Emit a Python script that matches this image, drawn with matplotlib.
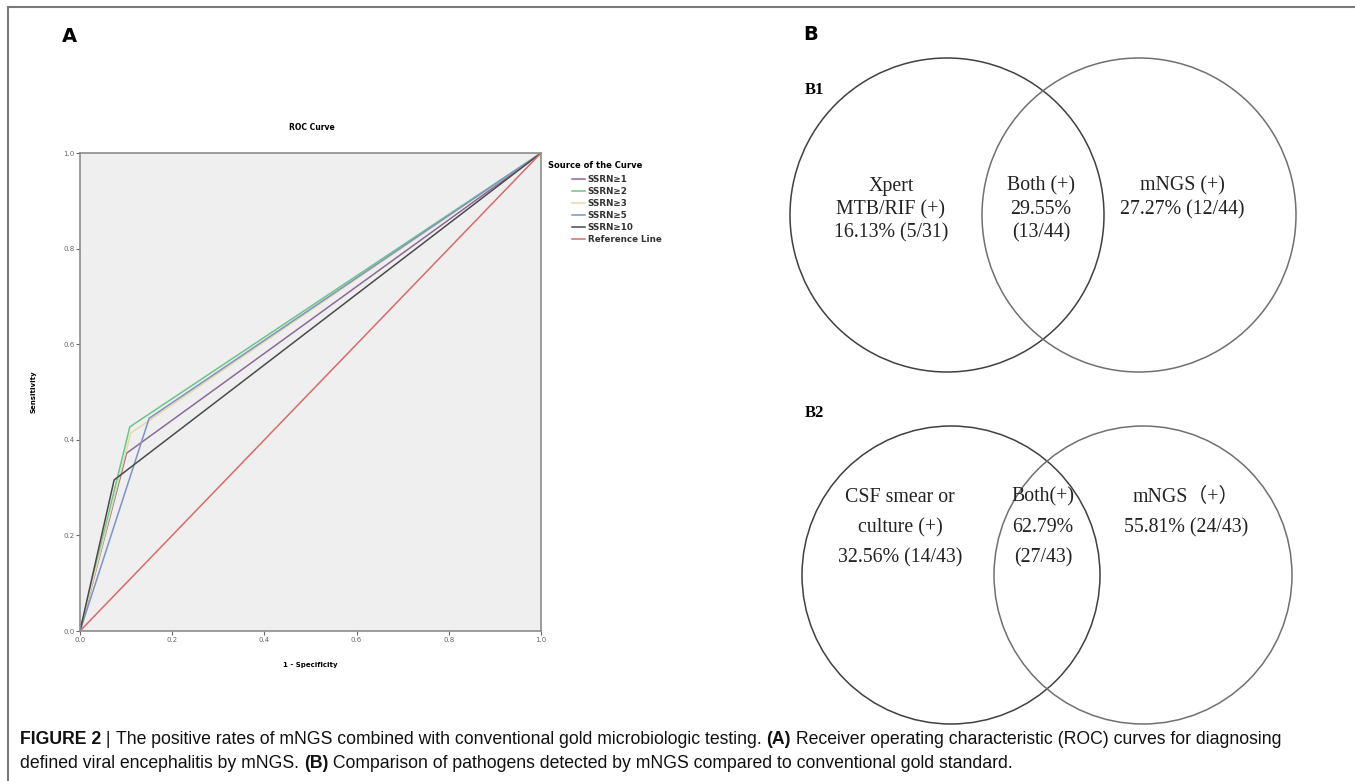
import matplotlib
matplotlib.use("Agg")
import matplotlib.pyplot as plt
from matplotlib.patches import Circle
from matplotlib.lines import Line2D

W, H = 1355, 781

# ROC curves (1 - specificity, sensitivity) at the single cut-off of each threshold
curve_names = ["SSRN\u22651", "SSRN\u22652", "SSRN\u22653", "SSRN\u22655", "SSRN\u226510"]
curve_fpr = [0.101, 0.108, 0.110, 0.150, 0.074]
curve_tpr = [0.372, 0.427, 0.414, 0.445, 0.316]
curve_colors = ["#8a6a96", "#6cc488", "#e6d9a8", "#7d93c4", "#4a4a4a"]
ref_color = "#d86a6a"
ticks = [0.0, 0.2, 0.4, 0.6, 0.8, 1.0]

# Venn panels: text per region
b1_left = ["Xpert", "MTB/RIF (+)", "16.13% (5/31)"]
b1_mid = ["Both (+)", "29.55%", "(13/44)"]
b1_right = ["mNGS (+)", "27.27% (12/44)"]
b2_left = ["CSF smear or", "culture (+)", "32.56% (14/43)"]
b2_mid = ["Both(+)", "62.79%", "(27/43)"]
b2_right = ["mNGS\uff08+\uff09", "55.81% (24/43)"]

fig = plt.figure(figsize=(W / 100, H / 100), dpi=100)
fig.patch.set_facecolor("white")


def px_axes(x0, y0, x1, y1):
    return fig.add_axes([x0 / W, 1 - y1 / H, (x1 - x0) / W, (y1 - y0) / H])


# ---- panel A: ROC ----
ax = px_axes(80, 153, 541, 631)
ax.set_facecolor("#efefef")
for name, fx, ty, c in zip(curve_names, curve_fpr, curve_tpr, curve_colors):
    ax.plot([0, fx, 1], [0, ty, 1], color=c, lw=1.1)
ax.plot([0, 1], [0, 1], color=ref_color, lw=1.1)
ax.set_xlim(0, 1)
ax.set_ylim(0, 1)
ax.set_xticks(ticks)
ax.set_yticks(ticks)
ax.set_xticklabels([f"{t:.1f}" for t in ticks])
ax.set_yticklabels([f"{t:.1f}" for t in ticks])
ax.tick_params(labelsize=5, colors="#666666", length=3, width=0.8, pad=1)
for s in ax.spines.values():
    s.set_color("#8c8c8c")
    s.set_linewidth(1.2)
ax.set_xlabel("1 - Specificity", fontsize=5, fontweight="bold", labelpad=14)
ax.set_ylabel("Sensitivity", fontsize=5, fontweight="bold", labelpad=19)
fig.text(312 / W, 1 - 127 / H, "ROC Curve", fontsize=5.5, fontweight="bold",
         ha="center", va="center")

fig.text(548 / W, 1 - 165 / H, "Source of the Curve", fontsize=6, fontweight="bold",
         ha="left", va="center")
handles = [Line2D([], [], color=c, lw=1.1) for c in curve_colors]
handles.append(Line2D([], [], color=ref_color, lw=1.1))
labels = curve_names + ["Reference Line"]
leg = fig.legend(handles, labels, loc="upper left", bbox_to_anchor=(572 / W, 1 - 175 / H),
                 frameon=False, fontsize=6.3, handlelength=1.5, handletextpad=0.3,
                 labelspacing=0.35, borderpad=0, borderaxespad=0)
for t in leg.get_texts():
    t.set_fontweight("bold")
    t.set_color("#333333")

fig.text(62 / W, 1 - 37 / H, "A", fontsize=14, fontweight="bold", ha="left", va="center")
fig.text(803 / W, 1 - 34 / H, "B", fontsize=14, fontweight="bold", ha="left", va="center")

# ---- panel B: Venn diagrams (overlay in pixel units) ----
ov = fig.add_axes([0, 0, 1, 1])
ov.set_xlim(0, W)
ov.set_ylim(H, 0)
ov.axis("off")
ov.patch.set_alpha(0)

venn_circles = [(947, 215, 157, "#404040"), (1139, 215, 157, "#707070"),
                (951, 575, 149, "#404040"), (1143, 575, 149, "#707070")]
for cx, cy, r, c in venn_circles:
    ov.add_patch(Circle((cx, cy), r, fill=False, ec=c, lw=1.1))

serif = ["Liberation Serif", "DejaVu Serif"]
ov.text(805, 90, "B1", fontsize=12, fontweight="bold", family=serif, ha="left", va="center")
ov.text(805, 413, "B2", fontsize=12, fontweight="bold", family=serif, ha="left", va="center")


def block(x, y0, lines, step):
    for i, s in enumerate(lines):
        ov.text(x, y0 + i * step, s, fontsize=14.3, family=serif + ["Noto Sans CJK SC"],
                ha="center", va="center", color="#222222")


block(891, 186, b1_left, 23.5)
block(1041, 186, b1_mid, 23.5)
block(1182, 186, b1_right, 23.5)
block(900, 497, b2_left, 30.5)
block(1043, 497, b2_mid, 30.5)
block(1186, 497, b2_right, 30.5)

# frame
ov.plot([8, W], [7, 7], color="#7a7a7a", lw=1.5, clip_on=False)
ov.plot([8, 8], [7, H], color="#7a7a7a", lw=1.5, clip_on=False)

# ---- caption ----
narrow = ["Liberation Sans Narrow", "Liberation Sans", "DejaVu Sans"]
cap1 = [("FIGURE 2", "bold"), (" | ", "normal"),
        ("The positive rates of mNGS combined with conventional gold microbiologic testing. ", "normal"),
        ("(A)", "bold"),
        (" Receiver operating characteristic (ROC) curves for diagnosing", "normal")]
cap2 = [("defined viral encephalitis by mNGS. ", "normal"), ("(B)", "bold"),
        (" Comparison of pathogens detected by mNGS compared to conventional gold standard.", "normal")]

renderer = fig.canvas.get_renderer()


def caption_line(segs, x, y):
    for s, wgt in segs:
        t = ov.text(x, y, s, fontsize=12.7, fontweight=wgt, family=narrow,
                    ha="left", va="center", color="#111111")
        bb = t.get_window_extent(renderer)
        x += bb.width


caption_line(cap1, 20, 740)
caption_line(cap2, 20, 763)

fig.savefig("out.png", dpi=100)
